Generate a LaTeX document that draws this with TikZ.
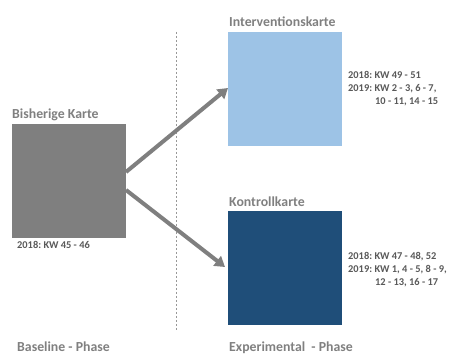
\documentclass[tikz,border=0pt]{standalone}
\usepackage{fontspec}
\setmainfont{Carlito}
\usetikzlibrary{arrows.meta}
\definecolor{boxgray}{HTML}{7F7F7F}
\definecolor{lightblue}{HTML}{9DC3E6}
\definecolor{darkblue}{HTML}{1F4E79}
\definecolor{titlegray}{HTML}{808080}
\definecolor{textgray}{HTML}{595959}
\begin{document}
\begin{tikzpicture}[x=1pt,y=-1pt,
  card/.style={minimum width=114pt,minimum height=114pt,inner sep=0pt,outer sep=0pt},
  title/.style={anchor=base west,inner sep=0pt,font=\fontsize{13.8}{16}\selectfont\bfseries,text=titlegray},
  info/.style={anchor=north west,inner sep=0pt,font=\fontsize{10.4}{13}\selectfont\bfseries,text=textgray,align=left},
  arr/.style={draw=boxgray,line width=4pt,-{Triangle[length=10pt,width=12pt]}}]
\useasboundingbox (0,0) rectangle (451,355);
\node[card,fill=boxgray,anchor=north west] (old) at (12,124) {};
\node[card,fill=lightblue,anchor=north west] (int) at (228,32) {};
\node[card,fill=darkblue,anchor=north west] (ctl) at (228,211) {};
\node[title] (toldt) at (12,119) {Bisherige Karte};
\node[title] (tint) at (229,27) {Interventionskarte};
\node[title] (tctl) at (229,207) {Kontrollkarte};
\node[info] (iold) at (17,241) {2018:\ KW 45 - 46};
\node[info] (iint) at (348,71) {2018:\ KW 49 - 51\\2019:\ KW 2 - 3, 6 - 7,\\\hspace*{27pt}10 - 11, 14 - 15};
\node[info] (ictl) at (348,252) {2018:\ KW 47 - 48, 52\\2019:\ KW 1, 4 - 5, 8 - 9,\\\hspace*{27pt}12 - 13, 16 - 17};
\node[title] (pbase) at (17,352) {Baseline - Phase};
\node[title] (pexp) at (229,352) {Experimental \ - Phase};
\coordinate (dtop) at (176.5,32);
\coordinate (dbot) at (176.5,330);
\draw[boxgray!80,dash pattern=on 2pt off 2pt,line width=0.6pt] (dtop) -- (dbot);
\draw[arr] ([yshift=9pt]old.east) -- ([yshift=58pt]int.south west);
\draw[arr] ([yshift=-9pt]old.east) -- ([yshift=-56pt,xshift=-3pt]ctl.north west);
\end{tikzpicture}
\end{document}
